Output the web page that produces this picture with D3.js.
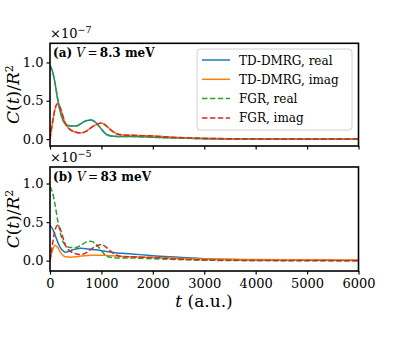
<!DOCTYPE html>
<html>
<head>
<meta charset="UTF-8">
<script src="https://d3js.org/d3.v7.min.js"></script>
<style>
  body { margin: 0; background: #fff; }
  svg { display: block; }
  text { font-family: "DejaVu Serif", serif; }
</style>
</head>
<body>
<div id="chart"></div>
<script>
// time grid (a.u.)
const times = [0, 50, 100, 150, 200, 250, 300, 400, 500, 600, 700, 800, 900, 1000, 1100, 1200, 1300, 1400, 1600, 1800, 2000, 2500, 3000, 3500, 4000, 5000, 6000];

// panel (a), V = 8.3 meV, units of 1e-7
const dmrgRealA = [0.96, 0.88, 0.72, 0.52, 0.36, 0.25, 0.20, 0.17, 0.17, 0.20, 0.24, 0.25, 0.21, 0.13, 0.06, 0.04, 0.035, 0.035, 0.035, 0.03, 0.025, 0.015, 0.006, 0.002, 0.001, 0, 0];
const dmrgImagA = [0, 0.22, 0.40, 0.46, 0.41, 0.30, 0.20, 0.12, 0.09, 0.08, 0.10, 0.15, 0.19, 0.21, 0.17, 0.11, 0.07, 0.055, 0.05, 0.045, 0.04, 0.02, 0.01, 0.005, 0.003, 0.001, 0];
const fgrRealA = [0.96, 0.88, 0.72, 0.52, 0.36, 0.25, 0.20, 0.17, 0.17, 0.20, 0.24, 0.25, 0.21, 0.13, 0.06, 0.04, 0.035, 0.035, 0.035, 0.03, 0.025, 0.015, 0.006, 0.002, 0.001, 0, 0];
const fgrImagA = [0, 0.22, 0.40, 0.46, 0.41, 0.30, 0.20, 0.12, 0.09, 0.08, 0.10, 0.15, 0.19, 0.21, 0.17, 0.11, 0.07, 0.055, 0.05, 0.045, 0.04, 0.02, 0.01, 0.005, 0.003, 0.001, 0];

// panel (b), V = 83 meV, units of 1e-5
const dmrgRealB = [0.46, 0.41, 0.33, 0.24, 0.17, 0.13, 0.11, 0.13, 0.15, 0.16, 0.155, 0.145, 0.14, 0.13, 0.12, 0.11, 0.10, 0.095, 0.085, 0.075, 0.065, 0.045, 0.025, 0.015, 0.01, 0.006, 0.004];
const dmrgImagB = [0, 0.14, 0.20, 0.17, 0.11, 0.07, 0.05, 0.045, 0.05, 0.06, 0.065, 0.07, 0.07, 0.07, 0.068, 0.065, 0.06, 0.055, 0.05, 0.045, 0.04, 0.03, 0.02, 0.017, 0.015, 0.012, 0.01];
const fgrRealB = [0.96, 0.88, 0.72, 0.52, 0.36, 0.25, 0.20, 0.17, 0.17, 0.20, 0.24, 0.25, 0.21, 0.13, 0.06, 0.04, 0.035, 0.035, 0.035, 0.03, 0.025, 0.015, 0.006, 0.002, 0.001, 0, 0];
const fgrImagB = [0, 0.22, 0.40, 0.46, 0.41, 0.30, 0.20, 0.12, 0.09, 0.08, 0.10, 0.15, 0.19, 0.21, 0.17, 0.11, 0.07, 0.055, 0.05, 0.045, 0.04, 0.02, 0.01, 0.005, 0.003, 0.001, 0];

const xTicks = [0, 1000, 2000, 3000, 4000, 5000, 6000];
const yTicks = [0.0, 0.5, 1.0];
const legendLabels = ["TD-DMRG, real", "TD-DMRG, imag", "FGR, real", "FGR, imag"];
const colors = ["#1f77b4", "#ff7f0e", "#2ca02c", "#d62728"];

const width = 399, height = 361;
const svg = d3.select("#chart").append("svg")
  .attr("width", width).attr("height", height);

const x = d3.scaleLinear().domain([0, 6000]).range([50, 358.5]);

const panels = [
  { top: 43.3, bottom: 146, ydom: [-0.09, 1.25], exp: "\u22127", label: "(a)", v: "8.3",
    series: [dmrgRealA, dmrgImagA, fgrRealA, fgrImagA], xlabels: false, legend: true },
  { top: 167, bottom: 271, ydom: [-0.134, 1.214], exp: "\u22125", label: "(b)", v: "83",
    series: [dmrgRealB, dmrgImagB, fgrRealB, fgrImagB], xlabels: true, legend: false }
];

panels.forEach(p => {
  const y = d3.scaleLinear().domain(p.ydom).range([p.bottom, p.top]);
  const g = svg.append("g");

  const clipId = "clip" + p.label.replace(/\W/g, "");
  svg.append("clipPath").attr("id", clipId).append("rect")
    .attr("x", x.range()[0]).attr("y", p.top)
    .attr("width", x.range()[1] - x.range()[0]).attr("height", p.bottom - p.top);

  const line = d3.line()
    .x((d, i) => x(times[i]))
    .y(d => y(d))
    .curve(d3.curveMonotoneX);

  const lines = g.append("g").attr("clip-path", `url(#${clipId})`);
  p.series.forEach((s, k) => {
    lines.append("path")
      .attr("d", line(s))
      .attr("fill", "none")
      .attr("stroke", colors[k])
      .attr("stroke-width", 1.5)
      .attr("stroke-dasharray", k >= 2 ? "5.5,2.4" : null);
  });

  // axes
  const yAxis = g.append("g").attr("transform", `translate(${x.range()[0]},0)`)
    .call(d3.axisLeft(y).tickValues(yTicks).tickFormat(d3.format(".1f")).tickSize(3.5).tickPadding(3));
  const xAxis = g.append("g").attr("transform", `translate(0,${p.bottom})`)
    .call(d3.axisBottom(x).tickValues(xTicks).tickSize(3.5).tickPadding(4)
      .tickFormat(p.xlabels ? d3.format("d") : ""));
  [yAxis, xAxis].forEach(a => {
    a.select(".domain").remove();
    a.selectAll(".tick line").attr("stroke", "#000").attr("stroke-width", 1.2);
    a.selectAll(".tick text").attr("font-size", 13).attr("fill", "#000");
  });

  // frame
  g.append("rect")
    .attr("x", x.range()[0]).attr("y", p.top)
    .attr("width", x.range()[1] - x.range()[0]).attr("height", p.bottom - p.top)
    .attr("fill", "none").attr("stroke", "#000").attr("stroke-width", 1.6);

  // offset text
  const off = g.append("text").attr("x", 50).attr("y", p.top - 5).attr("font-size", 13);
  off.append("tspan").text("\u00d710");
  off.append("tspan").attr("font-size", 9.5).attr("dy", -5).text(p.exp);

  // panel title
  const t = g.append("text").attr("x", 53).attr("y", p.top + 14)
    .attr("font-size", 12).attr("font-weight", "bold");
  t.append("tspan").text(p.label + " ");
  t.append("tspan").attr("font-style", "italic").attr("font-weight", "normal").text("V");
  t.append("tspan").attr("font-weight", "normal").text("\u2009=\u2009");
  t.append("tspan").text(p.v + " meV");

  // y label
  const yl = svg.append("text")
    .attr("transform", `translate(19,${(p.top + p.bottom) / 2}) rotate(-90)`)
    .attr("text-anchor", "middle").attr("font-size", 17).attr("font-style", "italic");
  yl.append("tspan").text("C");
  yl.append("tspan").attr("font-style", "normal").text("(");
  yl.append("tspan").text("t");
  yl.append("tspan").attr("font-style", "normal").text(")/");
  yl.append("tspan").text("R");
  yl.append("tspan").attr("font-size", 11).attr("dy", -6).attr("font-style", "normal").text("2");

  if (p.legend) {
    const lg = svg.append("g").attr("transform", "translate(197,49)");
    lg.append("rect").attr("width", 155).attr("height", 81).attr("rx", 3)
      .attr("fill", "#fff").attr("fill-opacity", 0.8)
      .attr("stroke", "#d0d0d0").attr("stroke-width", 1);
    legendLabels.forEach((lab, k) => {
      const yy = 11 + k * 19.3;
      lg.append("line").attr("x1", 5).attr("x2", 33).attr("y1", yy).attr("y2", yy)
        .attr("stroke", colors[k]).attr("stroke-width", 1.5)
        .attr("stroke-dasharray", k >= 2 ? "5.5,2.4" : null);
      lg.append("text").attr("x", 42).attr("y", yy + 4.5).attr("font-size", 12).text(lab);
    });
  }
});

// x label
const xl = svg.append("text").attr("x", 204).attr("y", 307)
  .attr("text-anchor", "middle").attr("font-size", 17);
xl.append("tspan").attr("font-style", "italic").text("t");
xl.append("tspan").text(" (a.u.)");
</script>
</body>
</html>
